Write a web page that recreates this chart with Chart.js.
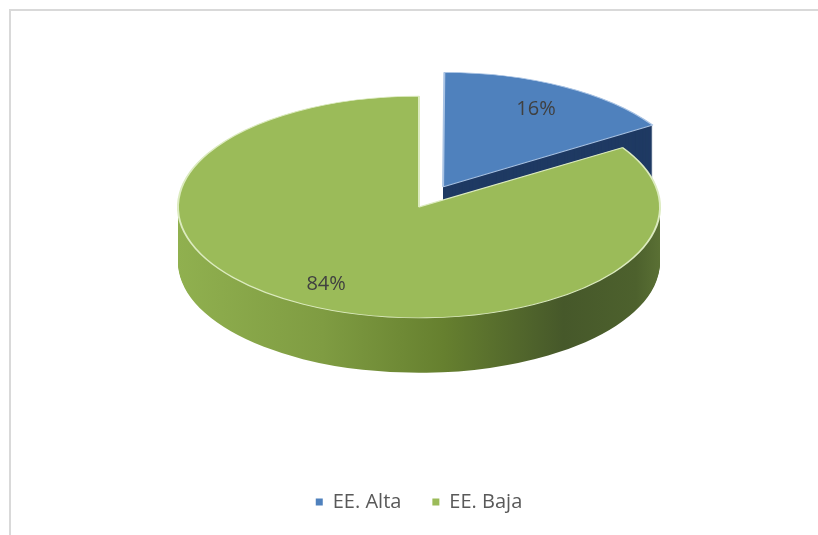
<!DOCTYPE html>
<html>
<head>
<meta charset="utf-8">
<script src="https://cdn.jsdelivr.net/npm/chart.js@4.4.0/dist/chart.umd.min.js"></script>
<style>
  html, body { margin: 0; padding: 0; background: #fff; }
  #wrap { position: relative; width: 818px; height: 535px; overflow: hidden; }
  #frame { position: absolute; left: 9px; top: 9px; width: 900px; height: 600px; border-left: 2px solid #d9d9d9; border-top: 2px solid #d9d9d9; }
  canvas { position: absolute; left: 0; top: 0; }
</style>
</head>
<body>
<div id="wrap">
  <div id="frame"></div>
  <canvas id="pieChart" width="818" height="535"></canvas>
</div>
<script>
// datos
const labels = ['EE. Alta', 'EE. Baja'];
const shares = [16, 84];
const topColors = ['#4f81bd', '#9bbb59'];
const edgeColors = ['#a9c3e4', '#dcebbf'];
const explode = [200, 0];

// aspecto 3D
const SQUASH = 0.46;
const DEPTH = 55;

function withSquash(ctx, cy, d, fn) {
  ctx.save();
  ctx.translate(0, cy + d);
  ctx.scale(1, SQUASH);
  ctx.translate(0, -cy);
  fn();
  ctx.restore();
}

function sideFill(ctx, arc, i) {
  if (i === 0) return '#1f3a63';
  const g = ctx.createLinearGradient(arc.x - arc.outerRadius, 0, arc.x + arc.outerRadius, 0);
  g.addColorStop(0, '#90b04f');
  g.addColorStop(0.3, '#7f9c42');
  g.addColorStop(0.55, '#66802f');
  g.addColorStop(0.8, '#46582a');
  g.addColorStop(0.95, '#4d612d');
  g.addColorStop(1, '#5a7034');
  return g;
}

const pie3d = {
  id: 'pie3d',
  beforeDatasetsDraw(chart) {
    const ctx = chart.ctx;
    const arcs = chart.getDatasetMeta(0).data;
    const cy = arcs[0].y;

    // paredes laterales, de abajo hacia arriba
    for (let d = DEPTH; d >= 1; d--) {
      arcs.forEach((arc, i) => {
        const orig = arc.options;
        arc.options = Object.assign({}, orig, { backgroundColor: sideFill(ctx, arc, i), borderWidth: 0 });
        withSquash(ctx, cy, d, () => arc.draw(ctx));
        arc.options = orig;
      });
    }

    // cara superior
    withSquash(ctx, cy, 0, () => arcs.forEach(arc => arc.draw(ctx)));

    // porcentajes
    ctx.save();
    ctx.font = '20px "Open Sans"';
    ctx.fillStyle = '#404040';
    ctx.textAlign = 'center';
    ctx.textBaseline = 'middle';
    arcs.forEach((arc, i) => {
      const mid = (arc.startAngle + arc.endAngle) / 2;
      const shift = (arc.options.offset || 0) / 4;
      const r = arc.outerRadius * 0.8 + shift;
      const px = arc.x + Math.cos(mid) * r;
      const py = cy + Math.sin(mid) * r * SQUASH;
      ctx.fillText(shares[i] + '%', px, py);
    });
    ctx.restore();
    return false;
  }
};

Chart.defaults.font.family = '"Open Sans", sans-serif';

new Chart(document.getElementById('pieChart'), {
  type: 'pie',
  data: {
    labels: labels,
    datasets: [{
      data: shares,
      backgroundColor: topColors,
      borderColor: edgeColors,
      borderWidth: 2,
      offset: explode,
      radius: 241
    }]
  },
  options: {
    responsive: false,
    animation: false,
    events: [],
    layout: { padding: { top: 0, left: 20, right: 0, bottom: 13 } },
    plugins: {
      tooltip: { enabled: false },
      legend: {
        position: 'bottom',
        // título vacío: solo deja espacio entre la tarta y la leyenda
        title: { display: true, text: '', font: { size: 10 }, padding: { top: 35, bottom: 0 } },
        labels: {
          boxWidth: 7,
          boxHeight: 7,
          padding: 31,
          color: '#595959',
          font: { size: 20 },
          generateLabels(chart) {
            return Chart.overrides.pie.plugins.legend.labels.generateLabels(chart)
              .map(l => Object.assign(l, { strokeStyle: l.fillStyle, lineWidth: 0 }));
          }
        }
      }
    }
  },
  plugins: [pie3d]
});
</script>
</body>
</html>
